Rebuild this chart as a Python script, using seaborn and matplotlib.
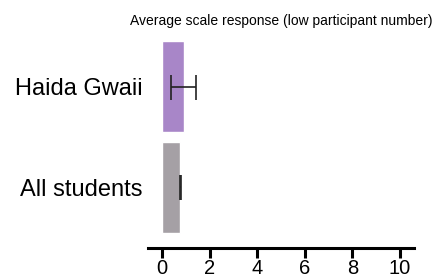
import numpy as np
import pandas as pd
import seaborn as sns
import matplotlib.pyplot as plt

# --- Data ---
groups = ['Haida Gwaii', 'All students']
means = [0.9, 0.76]
errs = [0.52, 0.03]
colors = ['#a886c8', '#a5a0a5']

df = pd.DataFrame({'group': groups, 'mean': means, 'err': errs})

sns.set_style('white')
plt.rcParams['font.family'] = ['Liberation Sans', 'DejaVu Sans']

fig = plt.figure(figsize=(4.47, 2.77), dpi=100)
ax = fig.add_axes([148 / 447, 1 - 248 / 277, 266 / 447, 222 / 277])

sns.barplot(data=df, x='mean', y='group', hue='group', palette=colors,
            width=0.9, legend=False, ax=ax, saturation=1)
ax.errorbar(df['mean'], np.arange(len(groups)), xerr=df['err'],
            fmt='none', ecolor='#222222', elinewidth=1.2, capsize=9, capthick=1.2)

ax.set_xlim(-0.6, 10.6)
ax.set_ylim(1.6, -0.6)
ax.set_xticks(range(0, 11, 2))
ax.set_xlabel('')
ax.set_ylabel('')
ax.set_title('Average scale response (low participant number)', fontsize=10,
             color='black', pad=1)

sns.despine(ax=ax, left=True)
ax.spines['bottom'].set_linewidth(2.2)
ax.spines['bottom'].set_color('black')
ax.tick_params(axis='x', bottom=True, length=7, width=2.2, direction='out',
               labelsize=14.5, pad=1, color='black', labelcolor='black')
ax.tick_params(axis='y', left=False, length=0, labelsize=17, pad=4,
               labelcolor='black')

fig.savefig('out.png', dpi=100)
